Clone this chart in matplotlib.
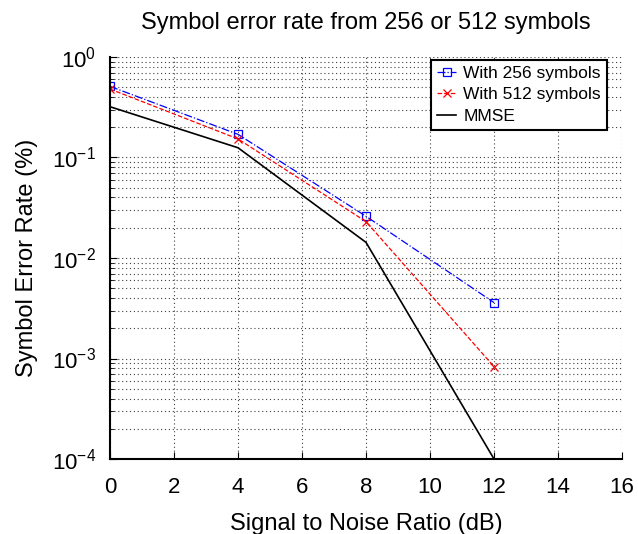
import matplotlib
matplotlib.use('Agg')
import matplotlib.pyplot as plt
import numpy as np

plt.rcParams['font.family'] = ['Liberation Sans', 'DejaVu Sans']

snr_db = [0, 4, 8, 12]
ser_256 = [0.51, 0.17, 0.026, 0.0036]
ser_512 = [0.48, 0.153, 0.023, 0.00083]
ser_mmse = [0.32, 0.125, 0.0143, 0.0001]

fig = plt.figure(figsize=(6.38, 5.34), dpi=100)
ax = fig.add_axes([0.1724, 0.1404, 0.8026, 0.7529])

ax.semilogy(snr_db, ser_256, color='b', ls='-.', marker='s', lw=0.9, ms=6, mfc='none', mew=0.9,
            label='With 256 symbols')
ax.semilogy(snr_db, ser_512, color='r', ls='--', marker='x', lw=0.9, ms=6, mew=0.9,
            label='With 512 symbols')
ax.semilogy(snr_db, ser_mmse, color='k', ls='-', lw=1.2, label='MMSE')

ax.set_xlim(0, 16)
ax.set_ylim(1e-4, 1)
ax.set_xticks(range(0, 17, 2))
ax.grid(True, which='both', linestyle=(0, (1, 2.5)), color='0.25', lw=0.8)
ax.tick_params(which='both', direction='in', labelsize=16, pad=10)
ax.tick_params(axis='x', pad=13)
ax.tick_params(which='major', length=5)
ax.tick_params(which='minor', length=3)
ax.spines['top'].set_visible(False)
ax.spines['right'].set_visible(False)
ax.spines['left'].set_linewidth(1.5)
ax.spines['bottom'].set_linewidth(1.5)

ax.set_title('Symbol error rate from 256 or 512 symbols', fontsize=17, pad=20)
ax.set_xlabel('Signal to Noise Ratio (dB)', fontsize=17, labelpad=11)
ax.set_ylabel('Symbol Error Rate (%)', fontsize=17, labelpad=10)

leg = ax.legend(loc='upper right', bbox_to_anchor=(0.9514, 0.8876), bbox_transform=fig.transFigure,
                fontsize=12.5, fancybox=False, framealpha=1, edgecolor='k',
                handlelength=1.1, handletextpad=0.4, borderaxespad=0,
                labelspacing=0.35, borderpad=0.35)
leg.get_frame().set_linewidth(1.5)

fig.savefig('out.png', dpi=100)
